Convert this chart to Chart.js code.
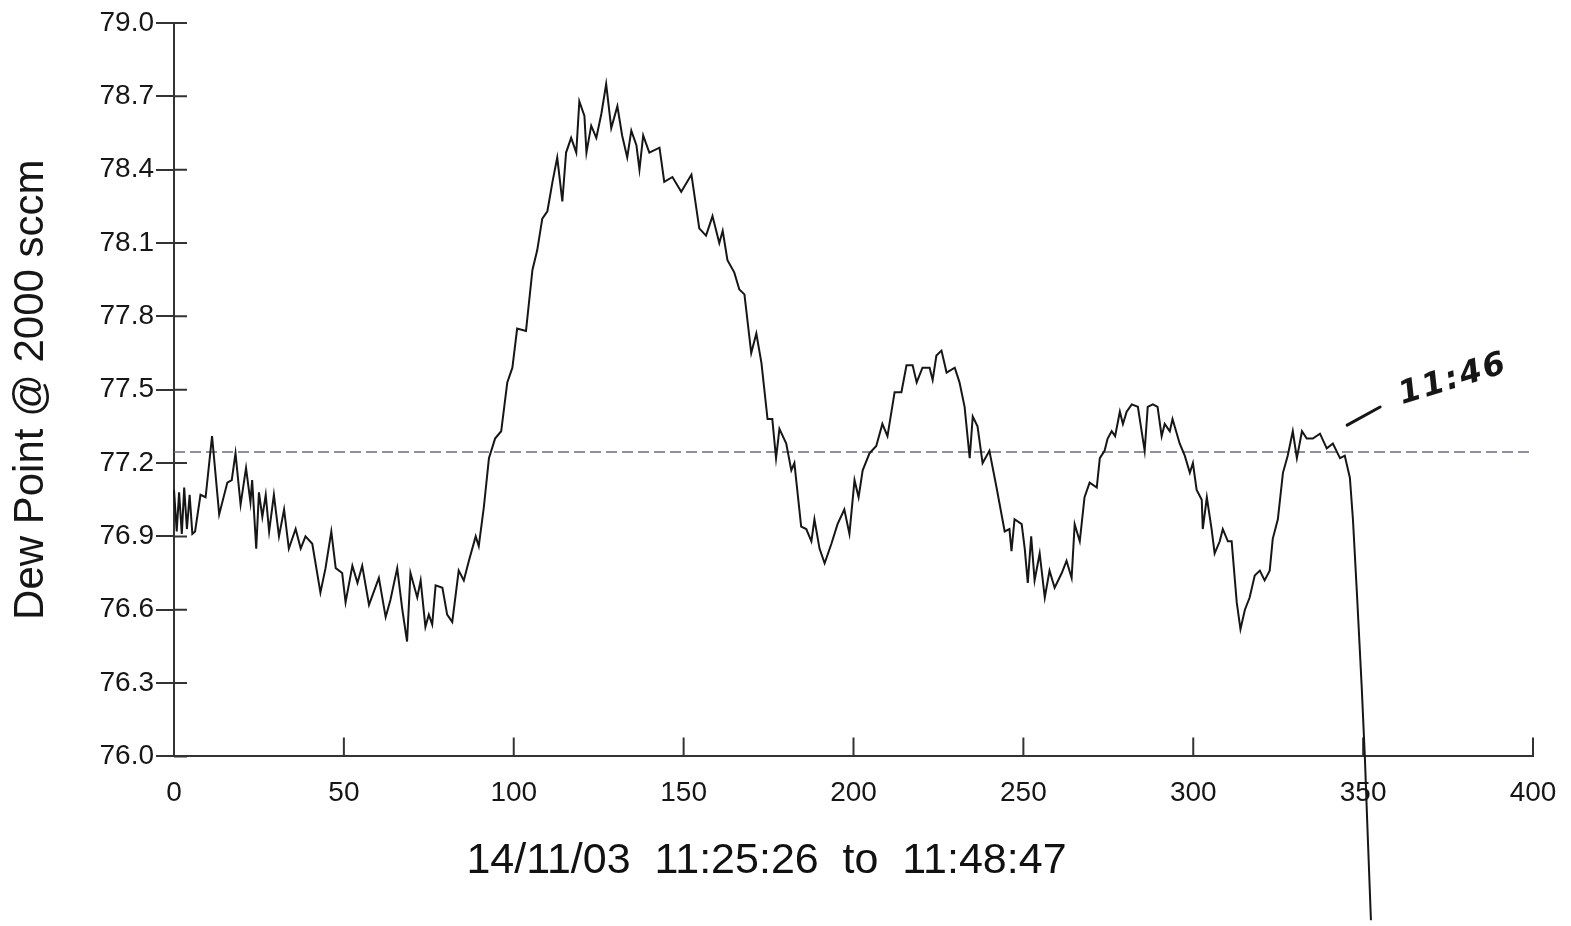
<!DOCTYPE html>
<html>
<head>
<meta charset="utf-8">
<title>Dew Point @ 2000 sccm</title>
<script src="https://cdn.jsdelivr.net/npm/chart.js@4"></script>
<style>
  html, body { margin: 0; padding: 0; background: #fff; }
  #wrap { width: 1571px; height: 926px; }
</style>
</head>
<body>
<div id="wrap"><canvas id="chart" width="1571" height="926"></canvas></div>
<script>
// readings taken off the logger printout
const elapsed = [
  0, 0.8, 1.5, 2.3, 3.0, 3.8, 4.6, 5.4, 6.2, 7.8, 9.3, 11.2, 13.3, 15.7, 17.0, 18.1, 19.6, 21.2, 22.5, 23.0,
  24.2, 25.0, 26.0, 27.0, 28.0, 29.4, 30.9, 32.4, 33.8, 35.8, 37.3, 38.7, 40.7, 43.1, 44.6, 46.3, 47.6, 49.5, 50.5, 52.5,
  54.0, 55.4, 57.4, 60.3, 62.3, 63.7, 65.7, 67.2, 68.6, 69.6, 71.6, 72.6, 74.0, 75.0, 76.0, 77.0, 79.0, 80.4, 81.9, 83.8,
  85.3, 86.8, 88.8, 89.7, 91.2, 92.7, 94.5, 96.3, 98.1, 99.6, 101.0, 103.6, 105.5, 106.9, 108.4, 109.9, 111.4, 112.8, 114.3, 115.4,
  116.9, 118.4, 119.3, 120.8, 121.4, 122.8, 124.3, 125.8, 127.2, 128.7, 130.5, 131.9, 133.4, 134.6, 136.1, 137.0, 138.1, 139.9, 142.9, 144.3,
  146.7, 149.3, 152.3, 154.6, 156.6, 158.5, 160.5, 161.5, 162.9, 164.9, 166.4, 167.9, 169.9, 171.4, 172.9, 174.7, 176.1, 177.2, 178.2, 180.2,
  181.7, 182.6, 184.6, 186.1, 187.6, 188.5, 190.0, 191.5, 193.5, 195.3, 197.3, 198.8, 200.3, 201.5, 202.7, 204.7, 206.7, 208.5, 210.0, 212.1,
  214.1, 215.6, 217.4, 218.6, 220.3, 222.4, 223.3, 224.4, 225.9, 227.4, 229.8, 231.2, 232.7, 234.2, 235.1, 236.5, 238.0, 240.0, 242.1, 244.5,
  245.9, 246.5, 247.4, 249.5, 250.4, 251.3, 252.3, 253.3, 254.8, 256.3, 257.7, 259.2, 261.3, 262.7, 264.2, 265.1, 266.6, 268.0, 269.5, 271.6,
  272.5, 273.9, 274.8, 276.0, 277.0, 278.4, 279.3, 280.4, 281.9, 283.7, 285.7, 286.6, 288.1, 289.5, 290.7, 291.6, 293.1, 293.9, 296.0, 297.5,
  299.0, 299.9, 301.0, 302.5, 302.8, 304.0, 305.4, 306.3, 307.8, 308.7, 310.2, 311.3, 312.8, 313.9, 315.2, 316.6, 318.1, 319.6, 321.0, 322.5,
  323.4, 324.9, 326.4, 327.8, 329.3, 330.5, 332.0, 333.4, 335.2, 337.3, 339.3, 341.1, 343.2, 344.6, 346.1, 347.0, 348.2, 349.6, 350.5, 351.4,
  352.3
];
const dewPoint = [
  77.09, 76.92, 77.08, 76.91, 77.10, 76.93, 77.07, 76.91, 76.92, 77.07, 77.06, 77.31, 76.99, 77.12, 77.13, 77.24, 77.03, 77.18, 77.04, 77.13,
  76.85, 77.08, 76.98, 77.07, 76.92, 77.07, 76.90, 77.01, 76.85, 76.93, 76.85, 76.90, 76.87, 76.67, 76.77, 76.92, 76.77, 76.75, 76.63, 76.78,
  76.71, 76.78, 76.62, 76.73, 76.57, 76.64, 76.77, 76.60, 76.47, 76.75, 76.65, 76.72, 76.53, 76.58, 76.54, 76.70, 76.69, 76.58, 76.55, 76.76,
  76.72, 76.80, 76.90, 76.86, 77.02, 77.22, 77.30, 77.33, 77.53, 77.59, 77.75, 77.74, 77.99, 78.07, 78.20, 78.23, 78.35, 78.45, 78.27, 78.47,
  78.53, 78.47, 78.68, 78.62, 78.47, 78.58, 78.53, 78.63, 78.75, 78.57, 78.66, 78.54, 78.45, 78.56, 78.50, 78.40, 78.54, 78.47, 78.49, 78.35,
  78.37, 78.31, 78.38, 78.16, 78.13, 78.21, 78.10, 78.15, 78.03, 77.98, 77.91, 77.89, 77.65, 77.73, 77.61, 77.38, 77.38, 77.22, 77.34, 77.28,
  77.17, 77.20, 76.94, 76.93, 76.88, 76.97, 76.85, 76.79, 76.87, 76.95, 77.01, 76.91, 77.13, 77.06, 77.17, 77.24, 77.27, 77.36, 77.31, 77.49,
  77.49, 77.60, 77.60, 77.53, 77.59, 77.59, 77.54, 77.64, 77.66, 77.57, 77.59, 77.53, 77.43, 77.22, 77.39, 77.35, 77.20, 77.25, 77.10, 76.92,
  76.93, 76.84, 76.97, 76.95, 76.85, 76.71, 76.90, 76.72, 76.83, 76.65, 76.76, 76.69, 76.75, 76.80, 76.73, 76.95, 76.88, 77.06, 77.12, 77.10,
  77.22, 77.25, 77.30, 77.33, 77.31, 77.41, 77.36, 77.41, 77.44, 77.43, 77.25, 77.43, 77.44, 77.43, 77.31, 77.36, 77.33, 77.38, 77.28, 77.23,
  77.16, 77.20, 77.09, 77.05, 76.93, 77.06, 76.93, 76.83, 76.88, 76.93, 76.88, 76.88, 76.63, 76.52, 76.60, 76.65, 76.74, 76.76, 76.72, 76.76,
  76.89, 76.97, 77.16, 77.23, 77.33, 77.22, 77.33, 77.30, 77.30, 77.32, 77.26, 77.28, 77.22, 77.23, 77.14, 76.97, 76.66, 76.28, 76.00, 75.66,
  75.33
];
const setPoint = 77.245;
const xTicks = [0, 50, 100, 150, 200, 250, 300, 350, 400];
const yTicks = [76.0, 76.3, 76.6, 76.9, 77.2, 77.5, 77.8, 78.1, 78.4, 78.7, 79.0];
const xTitle = "14/11/03  11:25:26  to  11:48:47";
const yTitle = "Dew Point @ 2000 sccm";
// handwritten note on the printout
const note = { text: "11:46", x: 361.5, y: 77.44, from: [345.3, 77.355], to: [355.0, 77.429] };

const INK = "#161616";
const FONT = "'Liberation Sans', Arial, sans-serif";

// tick marks that reach into the plot, like the printout
const printoutTicks = {
  id: "printoutTicks",
  beforeDatasetsDraw(chart) {
    const { ctx, chartArea, scales } = chart;
    ctx.save();
    ctx.strokeStyle = "#333";
    ctx.lineWidth = 2;
    ctx.beginPath();
    scales.y.ticks.forEach((t) => {
      const py = scales.y.getPixelForValue(t.value);
      ctx.moveTo(chartArea.left, py);
      ctx.lineTo(chartArea.left + 13, py);
    });
    scales.x.ticks.forEach((t) => {
      if (t.value === 0) return;
      const px = scales.x.getPixelForValue(t.value);
      ctx.moveTo(px, chartArea.bottom);
      ctx.lineTo(px, chartArea.bottom - 19);
    });
    ctx.stroke();
    ctx.restore();
  },
  afterDraw(chart) {
    const { ctx, scales } = chart;
    const { x, y } = scales;
    ctx.save();
    ctx.strokeStyle = INK;
    ctx.lineWidth = 3;
    ctx.lineCap = "round";
    ctx.beginPath();
    ctx.moveTo(x.getPixelForValue(note.from[0]), y.getPixelForValue(note.from[1]));
    ctx.lineTo(x.getPixelForValue(note.to[0]), y.getPixelForValue(note.to[1]));
    ctx.stroke();
    ctx.translate(x.getPixelForValue(note.x), y.getPixelForValue(note.y));
    ctx.rotate(-0.3);
    ctx.fillStyle = INK;
    ctx.font = "italic bold 32px 'DejaVu Sans', sans-serif";
    if ("letterSpacing" in ctx) ctx.letterSpacing = "2px";
    ctx.textBaseline = "alphabetic";
    ctx.fillText(note.text, 0, 0);
    ctx.restore();
  },
};

new Chart(document.getElementById("chart"), {
  type: "line",
  data: {
    datasets: [
      {
        data: elapsed.map((v, i) => ({ x: v, y: dewPoint[i] })),
        borderColor: INK,
        borderWidth: 2,
        pointRadius: 0,
        tension: 0,
        clip: false,
      },
      {
        data: [{ x: 0, y: setPoint }, { x: 400, y: setPoint }],
        borderColor: "#6e6a84",
        borderWidth: 1.5,
        borderDash: [11, 5],
        pointRadius: 0,
      },
    ],
  },
  options: {
    responsive: false,
    animation: false,
    devicePixelRatio: 1,
    layout: { padding: { left: 0, right: 38, top: 23, bottom: 39 } },
    plugins: {
      legend: { display: false },
      tooltip: { enabled: false },
      title: {
        display: true,
        position: "bottom",
        text: xTitle,
        color: "#111",
        font: { family: FONT, size: 43, weight: "normal", lineHeight: 1.2 },
        padding: { top: 0, bottom: 0 },
      },
    },
    scales: {
      x: {
        type: "linear",
        min: 0,
        max: 400,
        afterBuildTicks: (s) => { s.ticks = xTicks.map((v) => ({ value: v })); },
        afterFit: (s) => { s.height = 79; s.paddingLeft = 0; s.paddingRight = 0; },
        ticks: {
          color: INK,
          font: { family: FONT, size: 28 },
          padding: 12,
          maxRotation: 0,
          autoSkip: false,
        },
        grid: { display: false },
        border: { color: "#333", width: 2 },
      },
      y: {
        type: "linear",
        min: 76,
        max: 79,
        afterBuildTicks: (s) => { s.ticks = yTicks.map((v) => ({ value: v })); },
        afterFit: (s) => { s.width = 174; s.paddingTop = 0; s.paddingBottom = 0; },
        ticks: {
          color: INK,
          font: { family: FONT, size: 28 },
          padding: 2,
          callback: (v) => Number(v).toFixed(1),
        },
        grid: { drawOnChartArea: false, drawTicks: true, tickLength: 18, color: "#333", lineWidth: 2 },
        border: { color: "#333", width: 2 },
        title: {
          display: true,
          text: yTitle,
          color: INK,
          font: { family: FONT, size: 42 },
          padding: { top: 6, bottom: 0 },
        },
      },
    },
  },
  plugins: [printoutTicks],
});
</script>
</body>
</html>
